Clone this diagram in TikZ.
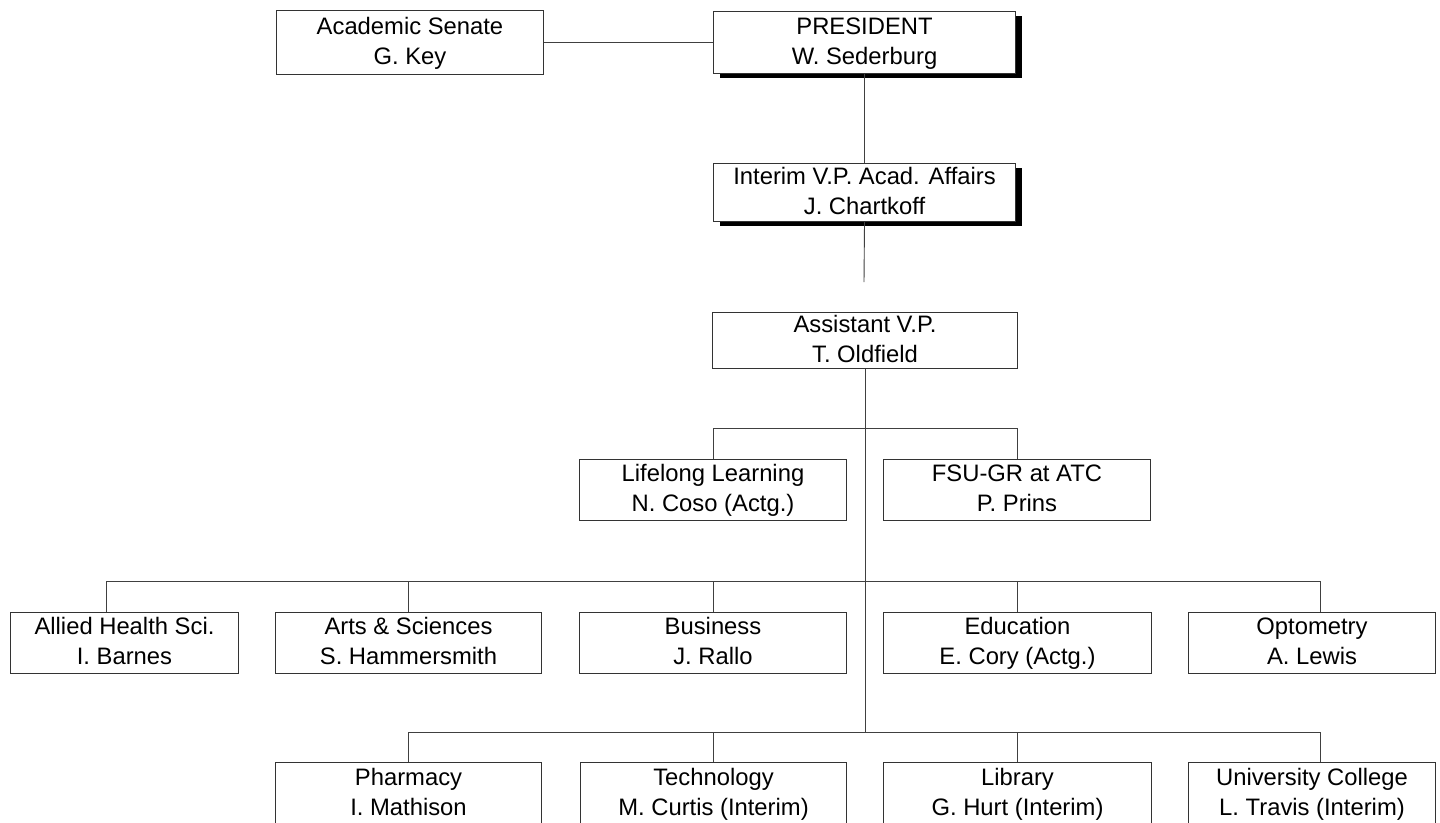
\documentclass[tikz,border=0pt]{standalone}
\usepackage{fontspec}
\setmainfont{Liberation Sans}
\usetikzlibrary{shadows}
\begin{document}
\begin{tikzpicture}[x=1pt,y=-1pt,
  box/.style={draw=black!80, line width=1pt, fill=white, rectangle, inner sep=0pt,
    align=center, font=\fontsize{23.8}{30}\selectfont,
    text height=47pt, text depth=4pt, anchor=north west},
  shadowed/.style={drop shadow={shadow xshift=6pt, shadow yshift=-4pt, opacity=1, fill=black}},
  conn/.style={draw=black!75, line width=0.9pt}]
\useasboundingbox (0,0) rectangle (1440,822);
\fill[white] (0,0) rectangle (1440,822);
\clip (0,0) rectangle (1440,822);

% top rows
\node[box, minimum width=267pt, minimum height=64pt] (senate) at (276,10) {Academic Senate\\G. Key};
\node[box, shadowed, minimum width=302pt, minimum height=62pt] (pres) at (713,11) {PRESIDENT\\W. Sederburg};
\node[box, shadowed, minimum width=302pt, minimum height=58pt] (interim) at (713,163) {Interim V.P. Acad. Affairs\\J. Chartkoff};
\node[box, minimum width=305pt, minimum height=56pt] (asst) at (712,312) {Assistant V.P.\\T. Oldfield};
\node[box, minimum width=267pt, minimum height=61pt] (lifelong) at (579,459) {Lifelong Learning\\N. Coso (Actg.)};
\node[box, minimum width=267pt, minimum height=61pt] (fsu) at (883,459) {FSU-GR at ATC\\P. Prins};

% middle row
\node[box, minimum width=228pt, minimum height=61pt] (allied) at (10,612) {Allied Health Sci.\\I. Barnes};
\node[box, minimum width=266pt, minimum height=61pt] (arts) at (275,612) {Arts \& Sciences\\S. Hammersmith};
\node[box, minimum width=267pt, minimum height=61pt] (business) at (579,612) {Business\\J. Rallo};
\node[box, minimum width=268pt, minimum height=61pt] (education) at (883,612) {Education\\E. Cory (Actg.)};
\node[box, minimum width=247pt, minimum height=61pt] (optometry) at (1188,612) {Optometry\\A. Lewis};

% bottom row
\node[box, minimum width=266pt, minimum height=63pt] (pharmacy) at (275,762) {Pharmacy\\I. Mathison};
\node[box, minimum width=266pt, minimum height=63pt] (technology) at (580,762) {Technology\\M. Curtis (Interim)};
\node[box, minimum width=268pt, minimum height=63pt] (library) at (883,762) {Library\\G. Hurt (Interim)};
\node[box, minimum width=247pt, minimum height=63pt] (univ) at (1188,762) {University College\\L. Travis (Interim)};

% connector points
\coordinate (gapend) at (864,282);
\coordinate (hbL) at (106,581);
\coordinate (hbR) at (1320,581);
\coordinate (lbL) at (408,732);
\coordinate (lbR) at (1320,732);

% connectors
\draw[conn] (senate.east) -- (pres.west);
\draw[conn] (pres.south) -- (interim.north);
\draw[conn] (interim.south) -- (gapend);
\draw[conn] (asst.south) -- (asst.south |- lbL);
\draw[conn] (lifelong.north) -- ++(0,-31) -| (fsu.north);
\draw[conn] (hbL) -- (hbR);
\draw[conn] (hbL) -- (hbL |- allied.north);
\draw[conn] (arts.north) -- (arts.north |- hbL);
\draw[conn] (business.north) -- (business.north |- hbL);
\draw[conn] (education.north) -- (education.north |- hbL);
\draw[conn] (hbR) -- (hbR |- optometry.north);
\draw[conn] (lbL) -- (lbR);
\draw[conn] (pharmacy.north) -- (pharmacy.north |- lbL);
\draw[conn] (technology.north) -- (technology.north |- lbL);
\draw[conn] (library.north) -- (library.north |- lbL);
\draw[conn] (lbR) -- (lbR |- univ.north);
\end{tikzpicture}
\end{document}
